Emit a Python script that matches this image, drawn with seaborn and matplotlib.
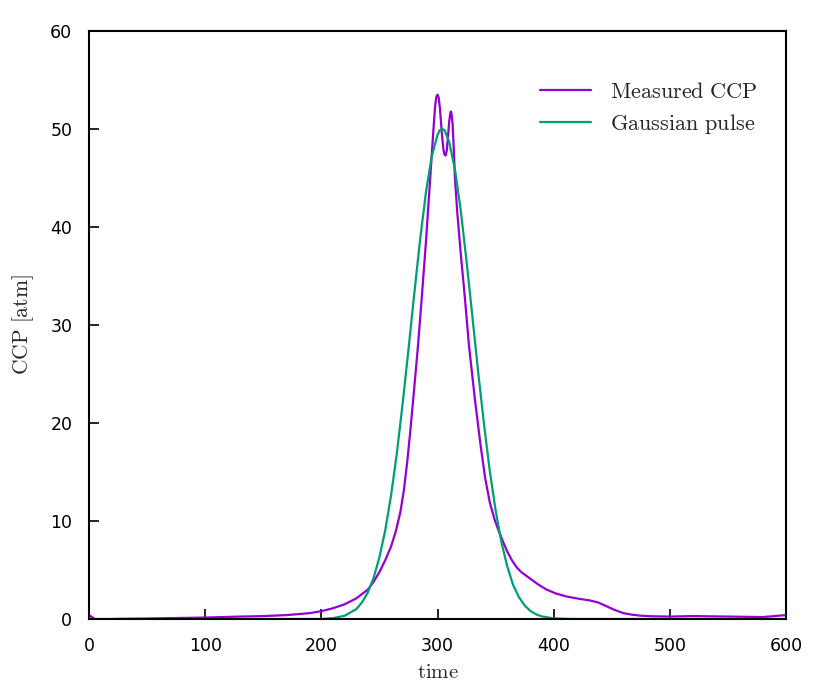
import matplotlib
matplotlib.use("Agg")
import matplotlib.pyplot as plt
import numpy as np
import pandas as pd
import seaborn as sns

# measured cross-correlation pulse
t_meas = [0, 5, 10, 20, 50, 100, 130, 150, 170, 180, 190, 200, 210, 220, 230, 240,
          245, 250, 255, 260, 264, 268, 271, 274, 276.5, 279, 283, 286, 290, 293.5, 296.4,
          298, 299, 300, 301, 302, 303, 304, 305, 306, 307, 308, 309, 310, 311, 311.5,
          312, 313, 314, 315, 317, 320, 323.7, 327, 332.3, 337, 341, 345, 349, 352,
          356, 360, 364, 368, 372, 380, 387, 394, 402, 411, 420, 431, 438, 445.6, 452,
          460, 467, 474, 485, 500, 520, 550, 580, 590, 600]
ccp_meas = [0.4, 0.0, -0.1, 0.0, 0.05, 0.15, 0.25, 0.3, 0.4, 0.5, 0.6, 0.8, 1.1, 1.5, 2.1, 3.0,
            3.8, 4.8, 6.0, 7.4, 8.9, 10.9, 13.1, 16.1, 19.1, 22.3, 27.6, 32.1, 38.4, 44.6, 49.8,
            52.4, 53.3, 53.5, 53.2, 52.2, 50.7, 49.2, 48.0, 47.4, 47.3, 47.8, 49.2, 50.7, 51.6, 51.8,
            51.6, 50.5, 48.0, 45.0, 41.5, 37.3, 32.6, 28.0, 22.3, 17.8, 14.4, 11.9, 10.2, 9.2,
            8.0, 6.9, 6.0, 5.3, 4.8, 4.1, 3.5, 3.0, 2.6, 2.3, 2.1, 1.9, 1.7, 1.3, 0.95,
            0.6, 0.45, 0.35, 0.28, 0.25, 0.3, 0.25, 0.2, 0.3, 0.4]

# gaussian pulse
t_gauss = [0, 100, 200, 210, 220, 230, 235, 240, 245, 250, 255, 260, 265, 270, 275, 280,
           285, 290, 295, 300, 302, 304, 306, 310, 315, 320, 325, 330, 335, 340, 345,
           350, 355, 360, 365, 370, 375, 380, 385, 390, 400, 410, 420, 500, 600]
ccp_gauss = [0.0, 0.0, 0.0, 0.09, 0.33, 1.0, 1.7, 2.7, 4.2, 6.3, 9.05, 12.6, 16.9, 22.0, 27.5, 33.2,
             38.7, 43.5, 47.2, 49.4, 49.9, 50.0, 49.9, 48.7, 45.9, 41.7, 36.5, 30.9, 25.2, 19.9, 15.1,
             11.1, 7.85, 5.4, 3.5, 2.25, 1.38, 0.82, 0.47, 0.26, 0.07, 0.02, 0.0, 0.0, 0.0]

xticks = [0, 100, 200, 300, 400, 500, 600]
yticks = [0, 10, 20, 30, 40, 50, 60]

sns.set_style("white")
plt.rcParams['font.family'] = ['DejaVu Sans']
plt.rcParams['mathtext.fontset'] = 'cm'

df_meas = pd.DataFrame({'time': t_meas, 'ccp': ccp_meas})
df_gauss = pd.DataFrame({'time': t_gauss, 'ccp': ccp_gauss})

fig = plt.figure(figsize=(8.18, 6.96), dpi=100)
ax = fig.add_axes([0.1088, 0.1106, 0.8521, 0.8448])

sns.lineplot(data=df_meas, x='time', y='ccp', ax=ax, color='#9400D3', lw=1.6,
             estimator=None, sort=False, label=r'$\mathrm{Measured\ CCP}$')
sns.lineplot(data=df_gauss, x='time', y='ccp', ax=ax, color='#009E73', lw=1.6,
             estimator=None, sort=False, label=r'$\mathrm{Gaussian\ pulse}$')

ax.set_xlim(0, 600)
ax.set_ylim(0, 60)
ax.set_xticks(xticks)
ax.set_yticks(yticks)
ax.tick_params(axis='both', direction='in', length=7, width=1.2, labelsize=12.5,
               colors='black', bottom=True, left=True, top=False, right=False)
ax.tick_params(axis='y', pad=12)
ax.tick_params(axis='x', pad=13)
for s in ax.spines.values():
    s.set_color('black')
    s.set_linewidth(1.5)

ax.set_xlabel(r'$\mathrm{time}$', fontsize=15, labelpad=5)
ax.set_ylabel(r'$\mathrm{CCP\ [atm]}$', fontsize=15.5, labelpad=10)

ax.legend(loc='upper right', frameon=False, fontsize=16, handlelength=2.3,
          handletextpad=0.85, labelspacing=0.45, bbox_to_anchor=(0.988, 0.948))

fig.savefig('out.png', dpi=100)
